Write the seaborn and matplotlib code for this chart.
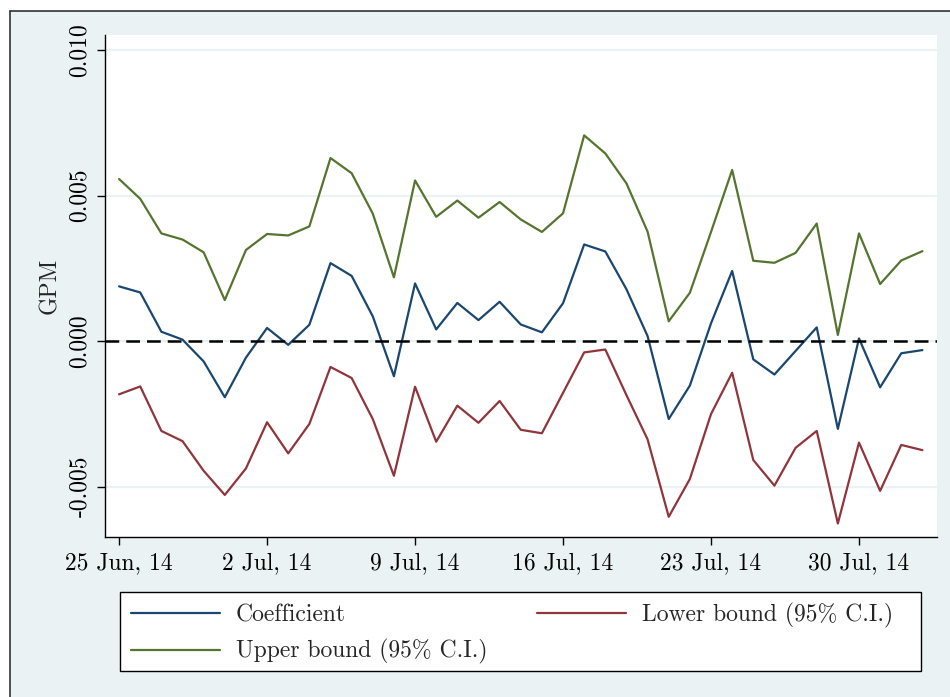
import numpy as np
import pandas as pd
import matplotlib
matplotlib.use("Agg")
import matplotlib.pyplot as plt
from matplotlib.patches import Rectangle
from matplotlib.lines import Line2D
import seaborn as sns

# Daily estimates, 25 Jun 2014 - 2 Aug 2014
dates = pd.date_range("2014-06-25", "2014-08-02", freq="D")

coefficient = [
    0.00188, 0.00167, 0.00032, 0.00005, -0.00070, -0.00193, -0.00057, 0.00045,
    -0.00013, 0.00056, 0.00268, 0.00224, 0.00085, -0.00121, 0.00198,
    0.00040, 0.00131, 0.00072, 0.00135, 0.00057, 0.00030, 0.00130, 0.00332,
    0.00308, 0.00178, 0.00017,
    -0.00268, -0.00153, 0.00061, 0.00241, -0.00063, -0.00115, -0.00034,
    0.00047, -0.00302, 0.00009, -0.00159, -0.00042, -0.00031,
]
lower_bound = [
    -0.00183, -0.00156, -0.00309, -0.00344, -0.00446, -0.00529, -0.00438, -0.00279,
    -0.00386, -0.00285, -0.00089, -0.00127, -0.00268, -0.00463, -0.00157,
    -0.00346, -0.00222, -0.00281, -0.00206, -0.00305, -0.00317, -0.00178, -0.00039,
    -0.00029, -0.00186, -0.00338,
    -0.00604, -0.00474, -0.00251, -0.00109, -0.00409, -0.00497, -0.00367,
    -0.00309, -0.00627, -0.00349, -0.00515, -0.00357, -0.00375,
]
upper_bound = [
    0.00557, 0.00489, 0.00370, 0.00349, 0.00305, 0.00141, 0.00313, 0.00368,
    0.00363, 0.00394, 0.00629, 0.00577, 0.00438, 0.00219, 0.00552,
    0.00427, 0.00483, 0.00424, 0.00478, 0.00418, 0.00375, 0.00439, 0.00707,
    0.00645, 0.00542, 0.00376,
    0.00068, 0.00166, 0.00375, 0.00588, 0.00276, 0.00269, 0.00303,
    0.00404, 0.00021, 0.00370, 0.00196, 0.00277, 0.00309,
]

series_names = ["Coefficient", "Lower bound (95% C.I.)", "Upper bound (95% C.I.)"]
series_colors = ["#1a476f", "#90353b", "#55752f"]

y_ticks = [-0.005, 0.000, 0.005, 0.010]
y_tick_labels = ["-0.005", "0.000", "0.005", "0.010"]
x_tick_dates = ["2014-06-25", "2014-07-02", "2014-07-09", "2014-07-16",
                "2014-07-23", "2014-07-30"]
x_tick_labels = ["25 Jun, 14", "2 Jul, 14", "9 Jul, 14", "16 Jul, 14",
                 "23 Jul, 14", "30 Jul, 14"]

df = pd.DataFrame({
    "date": np.tile(dates, 3),
    "value": coefficient + lower_bound + upper_bound,
    "series": np.repeat(series_names, len(dates)),
})

sns.set_theme(style="white")
plt.rcParams["font.family"] = ["cmr10", "DejaVu Serif"]
plt.rcParams["axes.unicode_minus"] = False

FS = 17
bg = "#eaf2f3"
W, H = 950, 697
fig = plt.figure(figsize=(W / 100, H / 100), dpi=100, facecolor="white")

# Graph region background with its top/left frame
fig.patches.append(Rectangle((10 / W, 0), 1, 1 - 11 / H, transform=fig.transFigure,
                             facecolor=bg, edgecolor="none", zorder=-5))
fig.lines.append(Line2D([10 / W, 10 / W], [0, 1 - 11 / H], transform=fig.transFigure,
                        color="#333333", lw=1.2, zorder=-4))
fig.lines.append(Line2D([10 / W, 1], [1 - 11 / H, 1 - 11 / H], transform=fig.transFigure,
                        color="#333333", lw=1.2, zorder=-4))

ax = fig.add_axes([105 / W, (H - 537) / H, (937 - 105) / W, (537 - 35) / H])
ax.set_facecolor("white")

# Grid lines
for yv in y_ticks:
    ax.axhline(yv, color=bg, lw=1.6, zorder=0)

sns.lineplot(data=df, x="date", y="value", hue="series", hue_order=series_names,
             palette=series_colors, lw=1.6, ax=ax, legend=False, zorder=3)

ax.axhline(0, color="black", lw=1.8, ls=(0, (5.5, 2.8)), zorder=4)

ax.set_ylim(-0.006735, 0.01052)
ax.set_xlim(dates[0] - pd.Timedelta(hours=16), dates[0] + pd.Timedelta(days=38.69))

ax.set_yticks(y_ticks)
ax.set_yticklabels(y_tick_labels, rotation=90, va="center", fontsize=FS)
ax.set_xticks(pd.to_datetime(x_tick_dates))
ax.set_xticklabels(x_tick_labels, fontsize=FS)
ax.tick_params(axis="both", which="major", length=6, width=1, color="black",
               labelcolor="black", left=True, bottom=True)
ax.tick_params(axis="y", pad=4)
ax.tick_params(axis="x", pad=5)

for side in ["top", "right"]:
    ax.spines[side].set_visible(False)
for side in ["left", "bottom"]:
    ax.spines[side].set_color("black")
    ax.spines[side].set_linewidth(1.0)

ax.set_xlabel("")
ax.set_ylabel("GPM", fontsize=FS, labelpad=6)

# Legend box
fig.patches.append(Rectangle((120 / W, (H - 671) / H), (921 - 120) / W, 79 / H,
                             transform=fig.transFigure, facecolor="white",
                             edgecolor="black", lw=1.0, zorder=1))

handles = [Line2D([], [], color=series_colors[0], lw=1.6),
           Line2D([], [], color=series_colors[2], lw=1.6),
           Line2D([], [], color=series_colors[1], lw=1.6)]
labels = [series_names[0], series_names[2], series_names[1]]
leg = fig.legend(handles, labels, ncol=2, loc="upper left",
                 bbox_to_anchor=(131 / W, (H - 603) / H),
                 bbox_transform=fig.transFigure, frameon=False, fontsize=FS,
                 handlelength=3.77, handletextpad=0.68, borderaxespad=0,
                 borderpad=0, labelspacing=0.54, columnspacing=2.1)
leg.set_zorder(2)

fig.savefig("out.png", dpi=100, facecolor=fig.get_facecolor())
